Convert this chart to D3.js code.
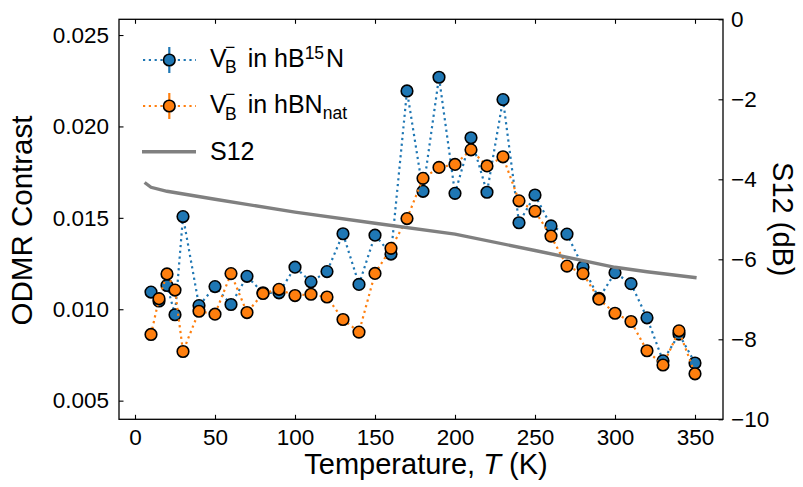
<!DOCTYPE html>
<html lang="en">
<head>
<meta charset="UTF-8">
<title>ODMR contrast vs temperature</title>
<script src="https://cdn.jsdelivr.net/npm/d3@7"></script>
<style>
    body { margin: 0; background: #fff; }
    text { font-family: "Liberation Sans", Arial, sans-serif; fill: #000; white-space: pre; }
</style>
</head>
<body>
<svg id="main" width="803" height="487"></svg>
<script>
    // temperatures (K) and ODMR contrast
    let temperature = [10, 15, 20, 25, 30, 40, 50, 60, 70, 80, 90, 100, 110, 120, 130, 140, 150, 160, 170, 180,
        190, 200, 210, 220, 230, 240, 250, 260, 270, 280, 290, 300, 310, 320, 330, 340, 350]
    let contrast_15N = [0.01094, 0.01045, 0.0113, 0.0097, 0.01507, 0.0102, 0.01124, 0.01026, 0.0118, 0.0109,
        0.0109, 0.0123, 0.0115, 0.01206, 0.01413, 0.01136, 0.01405, 0.01302, 0.02194, 0.01645,
        0.02269, 0.01634, 0.01938, 0.0164, 0.02147, 0.01473, 0.01625, 0.01456, 0.01411, 0.01231,
        0.0106, 0.0120, 0.0114, 0.00953, 0.00718, 0.00864, 0.00706]
    let contrast_nat = [0.00862, 0.01058, 0.01193, 0.01105, 0.00769, 0.00989, 0.00973, 0.01195, 0.00982, 0.01086,
        0.01109, 0.01075, 0.01082, 0.01067, 0.00944, 0.00875, 0.01196, 0.01333, 0.01496, 0.01716,
        0.01776, 0.01792, 0.01872, 0.01784, 0.01834, 0.01593, 0.01536, 0.0140, 0.01236, 0.01195,
        0.01055, 0.00978, 0.00933, 0.00773, 0.00695, 0.00882, 0.00647]
    // S12 transmission (dB)
    let s12_temp = [6, 10, 20, 50, 100, 150, 200, 250, 300, 320, 351]
    let s12_db = [-4.08, -4.2, -4.3, -4.5, -4.82, -5.1, -5.37, -5.78, -6.2, -6.31, -6.46]

    let xTicks = [0, 50, 100, 150, 200, 250, 300, 350]
    let yTicks = [0.005, 0.010, 0.015, 0.020, 0.025]
    let y2Ticks = [0, -2, -4, -6, -8, -10]

    let blue = "#1f77b4", orange = "#ff7f0e", grey = "#808080"

    let svg = d3.select("#main")
    let pLeft = 119, pRight = 723, pTop = 19.3, pBottom = 419.3

    let x = d3.scaleLinear().domain([-10, 367.5]).range([pLeft, pRight])
    let y = d3.scaleLinear().domain([0.00398, 0.02586]).range([pBottom, pTop])
    let y2 = d3.scaleLinear().domain([-10, 0]).range([pBottom, pTop])

    function styleAxis(g, size) {
        g.select(".domain").remove()
        g.attr("font-family", null).attr("font-size", null)
        g.selectAll("line").attr("stroke", "#000").attr("stroke-width", 1.1)
        g.selectAll("text").style("font-size", size + "px")
    }

    // axes, ticks pointing inward
    svg.append("g").attr("transform", `translate(0,${pBottom})`)
        .call(d3.axisBottom(x).tickValues(xTicks).tickSize(-4.5).tickPadding(10))
        .call(g => styleAxis(g, 22.5))
    svg.append("g").attr("transform", `translate(0,${pTop})`)
        .call(d3.axisTop(x).tickValues(xTicks).tickSize(-4.5).tickFormat(""))
        .call(g => styleAxis(g, 22.5))
    svg.append("g").attr("transform", `translate(${pLeft},0)`)
        .call(d3.axisLeft(y).tickValues(yTicks).tickSize(-4.5).tickFormat(d3.format(".3f")).tickPadding(10))
        .call(g => styleAxis(g, 22.5))
    svg.append("g").attr("transform", `translate(${pRight},0)`)
        .call(d3.axisRight(y2).tickValues(y2Ticks).tickSize(-4.5).tickPadding(8))
        .call(g => styleAxis(g, 22.5))

    // dotted series with markers
    function series(vals, color) {
        let pts = temperature.map((t, i) => [t, vals[i]])
        svg.append("path").datum(pts)
            .attr("fill", "none").attr("stroke", color).attr("stroke-width", 2.2)
            .attr("stroke-dasharray", "2.2,3.6")
            .attr("d", d3.line().x(d => x(d[0])).y(d => y(d[1])))
        svg.append("g").selectAll("circle").data(pts).join("circle")
            .attr("cx", d => x(d[0])).attr("cy", d => y(d[1])).attr("r", 5.8)
            .attr("fill", color).attr("stroke", "#000").attr("stroke-width", 1.6)
    }
    series(contrast_15N, blue)
    series(contrast_nat, orange)

    // S12 on the twin axis
    svg.append("path").datum(s12_temp.map((t, i) => [t, s12_db[i]]))
        .attr("fill", "none").attr("stroke", grey).attr("stroke-width", 3.4)
        .attr("d", d3.line().x(d => x(d[0])).y(d => y2(d[1])))

    // frame
    svg.append("rect").attr("x", pLeft).attr("y", pTop)
        .attr("width", pRight - pLeft).attr("height", pBottom - pTop)
        .attr("fill", "none").attr("stroke", "#000").attr("stroke-width", 1.3)

    // axis titles
    svg.append("text").attr("x", 426).attr("y", 474)
        .attr("text-anchor", "middle").style("font-size", "29px")
        .call(t => {
            t.append("tspan").text("Temperature, ")
            t.append("tspan").style("font-style", "italic").text("T")
            t.append("tspan").text(" (K)")
        })
    svg.append("text").attr("transform", `translate(32,220.5) rotate(-90)`)
        .attr("text-anchor", "middle").style("font-size", "29.5px").text("ODMR Contrast")
    svg.append("text").attr("transform", `translate(773,${(pTop + pBottom) / 2}) rotate(90)`)
        .attr("text-anchor", "middle").style("font-size", "29px").text("S12 (dB)")

    // legend
    let leg = svg.append("g")
    // one text element per label, pieces as positioned tspans
    function mathLabel(x0, y0, pieces, size, small) {
        let txt = leg.append("text").attr("x", x0).attr("y", y0).style("font-size", size + "px")
        let cx = x0
        pieces.forEach(p => {
            let px = p.at !== undefined ? x0 + p.at : cx
            let t = txt.append("tspan").attr("x", px).attr("y", y0 + (p.dy || 0))
                .style("font-size", (p.small ? small : size) + "px").text(p.t)
            let w = t.node().getComputedTextLength()
            if (!p.stack) cx = Math.max(cx, px + w) + (p.gap || 0)
        })
    }
    let legRows = [
        {color: blue, y: 60, base: 66.7, pieces: [{t: "V"}, {t: "\u2212", at: 15, dy: -13.5, small: true, stack: true},
            {t: "B", at: 15, dy: 6.5, small: true, gap: 4}, {t: " in hB"}, {t: "15", dy: -8, small: true, gap: 2},
            {t: "N"}]},
        {color: orange, y: 106, base: 113.3, pieces: [{t: "V"}, {t: "\u2212", at: 15, dy: -13.5, small: true, stack: true},
            {t: "B", at: 15, dy: 6.5, small: true, gap: 4}, {t: " in hBN"}, {t: "nat", dy: 5.5, small: true}]}
    ]
    legRows.forEach(r => {
        leg.append("line").attr("x1", 143).attr("x2", 196).attr("y1", r.y).attr("y2", r.y)
            .attr("stroke", r.color).attr("stroke-width", 2.2).attr("stroke-dasharray", "2.2,3.6")
        leg.append("line").attr("x1", 169.3).attr("x2", 169.3).attr("y1", r.y - 13).attr("y2", r.y + 13)
            .attr("stroke", r.color).attr("stroke-width", 2.2)
        leg.append("circle").attr("cx", 169.3).attr("cy", r.y).attr("r", 5.8)
            .attr("fill", r.color).attr("stroke", "#000").attr("stroke-width", 1.6)
        mathLabel(210, r.base, r.pieces, 25, 17.5)
    })
    leg.append("line").attr("x1", 142).attr("x2", 196).attr("y1", 151.7).attr("y2", 151.7)
        .attr("stroke", grey).attr("stroke-width", 3.4)
    leg.append("text").attr("x", 210).attr("y", 160).style("font-size", "25px").text("S12")
</script>
</body>
</html>
